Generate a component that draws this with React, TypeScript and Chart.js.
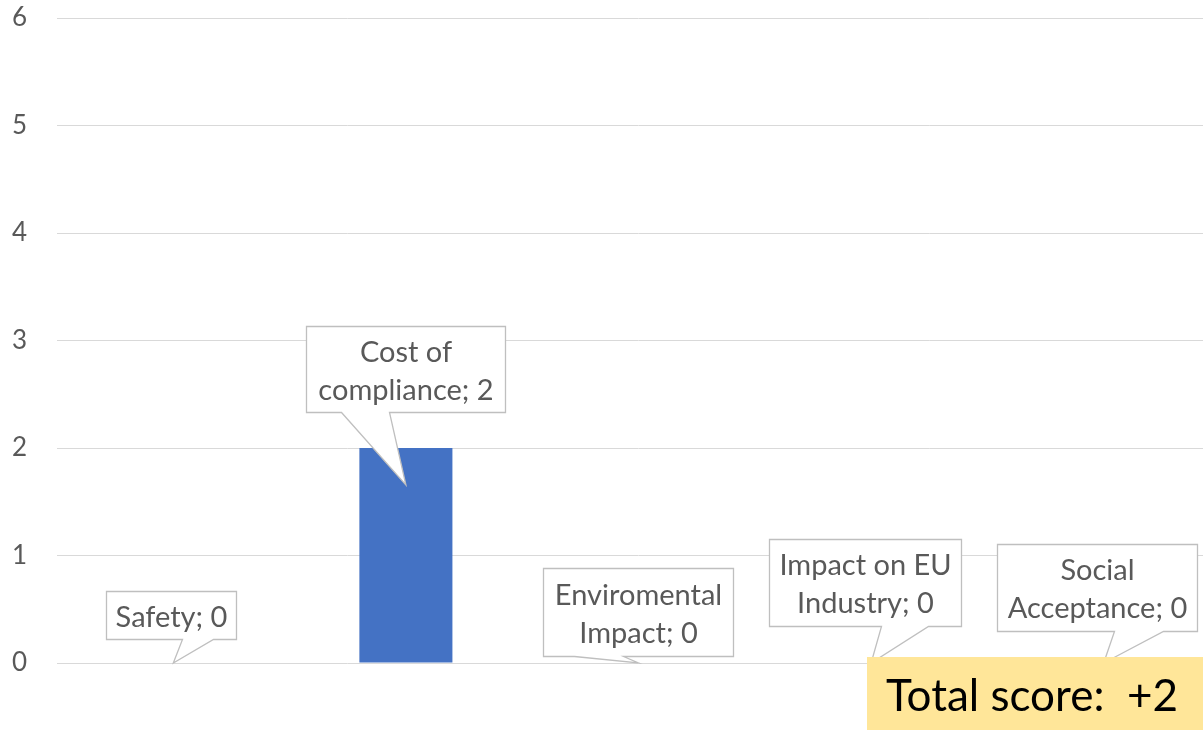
import React, { useEffect, useRef } from "react";
import { Chart, registerables } from "chart.js";

Chart.register(...registerables);

// ---- data ----
const categories = [
  "Safety",
  "Cost of compliance",
  "Enviromental Impact",
  "Impact on EU Industry",
  "Social Acceptance",
];
const scores = [0, 2, 0, 0, 0];
const yTicks = [0, 1, 2, 3, 4, 5, 6];

// ---- callout layout (relative to the pointed bar) ----
const calloutDx = [-2, 0, -1, -6.5, -7];
const calloutDy = [-24, -73, -7, -37, -32];
const calloutW = [130, 199, 190, 192, 200];
const calloutH = [48, 86, 88, 87, 87];
const calloutBaseL = [76, 35, 31, 112, 117];
const calloutBaseR = [107, 83, 80, 159, 166];

const FONT = "Lato, 'Open Sans', sans-serif";
const LABEL_SIZE = 29;
const LINE_H = 38;

function wrap(ctx: CanvasRenderingContext2D, text: string, maxW: number): string[] {
  const words = text.split(" ");
  const lines: string[] = [];
  let cur = "";
  for (const w of words) {
    const t = cur ? cur + " " + w : w;
    if (ctx.measureText(t).width <= maxW || !cur) cur = t;
    else {
      lines.push(cur);
      cur = w;
    }
  }
  if (cur) lines.push(cur);
  return lines;
}

const calloutPlugin = {
  id: "callouts",
  afterDatasetsDraw(chart: any) {
    const ctx: CanvasRenderingContext2D = chart.ctx;
    const meta = chart.getDatasetMeta(0);
    ctx.save();
    ctx.font = `${LABEL_SIZE}px ${FONT}`;
    meta.data.forEach((bar: any, i: number) => {
      const v = scores[i];
      const tipX = bar.x;
      const tipY = v > 0 ? bar.y + 37 : bar.y;
      const w = calloutW[i];
      const h = calloutH[i];
      const left = Math.round(tipX + calloutDx[i] - w / 2) + 0.5;
      const bottom = Math.round(tipY + calloutDy[i]) + 0.5;
      const top = bottom - h;
      const right = left + w;
      ctx.beginPath();
      ctx.moveTo(left, top);
      ctx.lineTo(right, top);
      ctx.lineTo(right, bottom);
      ctx.lineTo(left + calloutBaseR[i], bottom);
      ctx.lineTo(tipX, tipY);
      ctx.lineTo(left + calloutBaseL[i], bottom);
      ctx.lineTo(left, bottom);
      ctx.closePath();
      ctx.fillStyle = "#FFFFFF";
      ctx.fill();
      ctx.strokeStyle = "#BFBFBF";
      ctx.lineWidth = 1.3;
      ctx.stroke();

      const lines = wrap(ctx, `${categories[i]}; ${v}`, w - 12);
      ctx.fillStyle = "#595959";
      ctx.textAlign = "center";
      ctx.textBaseline = "alphabetic";
      const cy = (top + bottom) / 2 + 1;
      const cap = LABEL_SIZE * 0.72;
      lines.forEach((ln, k) => {
        const y = cy + (k - (lines.length - 1) / 2) * LINE_H + cap / 2;
        ctx.fillText(ln, left + w / 2, y);
      });
    });

    // total score box
    const total = scores.reduce((a, b) => a + b, 0);
    const bx = 867;
    const by = 657;
    ctx.fillStyle = "#FFE699";
    ctx.fillRect(bx, by, chart.width - bx, chart.height - by);
    ctx.fillStyle = "#000000";
    ctx.font = `44px ${FONT}`;
    ctx.textAlign = "left";
    ctx.textBaseline = "alphabetic";
    ctx.fillText(`Total score:  ${total >= 0 ? "+" : ""}${total}`, bx + 19, 711);
    ctx.restore();
  },
};

export default function App() {
  const ref = useRef<HTMLCanvasElement | null>(null);
  useEffect(() => {
    if (!ref.current) return;
    const chart = new Chart(ref.current, {
      type: "bar",
      data: {
        labels: categories,
        datasets: [
          {
            data: scores,
            backgroundColor: "#4472C4",
            barPercentage: 0.4,
            categoryPercentage: 1,
          },
        ],
      },
      options: {
        responsive: false,
        animation: false,
        devicePixelRatio: 1,
        layout: { padding: { left: 12, right: 0, top: 18, bottom: 67 } },
        plugins: { legend: { display: false }, tooltip: { enabled: false } },
        scales: {
          x: { display: false },
          y: {
            min: yTicks[0],
            max: yTicks[yTicks.length - 1],
            afterBuildTicks: (s: any) => {
              s.ticks = yTicks.map((v) => ({ value: v }));
            },
            afterFit: (s: any) => {
              s.width = 45;
            },
            border: { display: false },
            grid: { color: "#D9D9D9", lineWidth: 1, drawTicks: false },
            ticks: {
              padding: 0,
              crossAlign: "far",
              color: "#595959",
              font: { family: FONT, size: 26 },
            },
          },
        },
      },
      plugins: [calloutPlugin],
    });
    return () => chart.destroy();
  }, []);
  return (
    <div
      style={{
        position: "fixed",
        left: 0,
        top: 0,
        width: 1203,
        height: 730,
        overflow: "hidden",
        background: "#FFFFFF",
      }}
    >
      <canvas ref={ref} width={1220} height={730} style={{ display: "block" }} />
    </div>
  );
}
